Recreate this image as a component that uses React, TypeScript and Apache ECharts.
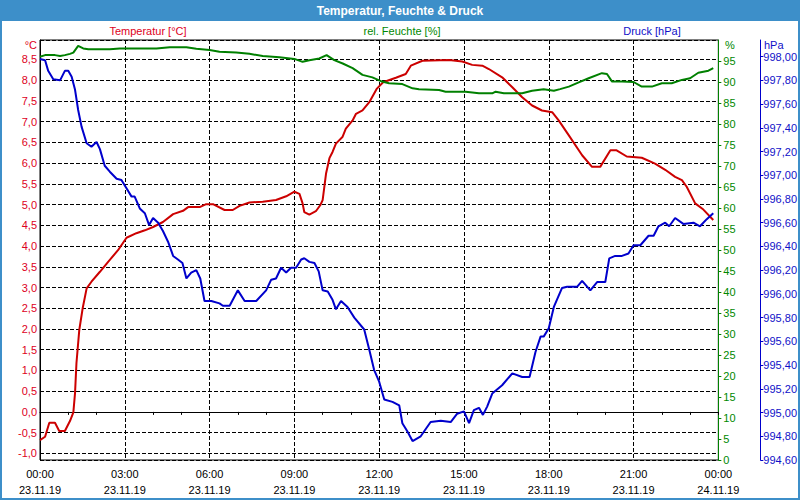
import React, { useEffect, useRef } from "react";
import * as echarts from "echarts";

const FONT = "'Liberation Sans', Arial, sans-serif";

const TITLE = "Temperatur, Feuchte & Druck";
const seriesNames = ["Temperatur [°C]", "rel. Feuchte [%]", "Druck [hPa]"];
const unitLabels = ["°C", "%", "hPa"];
const hourLabels = ["00:00", "03:00", "06:00", "09:00", "12:00", "15:00", "18:00", "21:00", "00:00"];
const dateLabels = ["23.11.19", "23.11.19", "23.11.19", "23.11.19", "23.11.19", "23.11.19", "23.11.19", "23.11.19", "24.11.19"];

// [hours since 23.11.19 00:00, value]
const temperature: [number, number][] = [
  [0, -0.68], [0.18, -0.6], [0.33, -0.26], [0.53, -0.26], [0.68, -0.46], [0.88, -0.46],
  [1.06, -0.22], [1.18, -0.01], [1.24, 0.46], [1.29, 1.18], [1.39, 1.98], [1.51, 2.5],
  [1.65, 2.98], [1.82, 3.14], [2.12, 3.38], [2.41, 3.62], [2.76, 3.9], [3.06, 4.2],
  [3.41, 4.31], [3.71, 4.38], [4.0, 4.46], [4.35, 4.58], [4.71, 4.77], [5.06, 4.85],
  [5.24, 4.94], [5.65, 4.94], [5.88, 5.01], [6.12, 5.01], [6.53, 4.87], [6.82, 4.87],
  [7.06, 4.97], [7.41, 5.05], [7.88, 5.07], [8.35, 5.11], [8.71, 5.2], [9.0, 5.31],
  [9.18, 5.26], [9.29, 5.03], [9.35, 4.82], [9.53, 4.76], [9.76, 4.84], [9.92, 4.99],
  [10.0, 5.11], [10.12, 5.75], [10.24, 6.12], [10.35, 6.27], [10.47, 6.47], [10.7, 6.63],
  [10.82, 6.83], [11.06, 7.03], [11.18, 7.19], [11.41, 7.27], [11.65, 7.47], [11.91, 7.79],
  [12.14, 7.95], [12.59, 8.06], [12.94, 8.15], [13.12, 8.35], [13.53, 8.47], [14.47, 8.49],
  [14.94, 8.45], [15.29, 8.37], [15.65, 8.35], [15.88, 8.27], [16.35, 8.07], [16.71, 7.83],
  [17.06, 7.59], [17.41, 7.39], [17.76, 7.27], [18.12, 7.23], [18.35, 7.03], [18.71, 6.67],
  [19.18, 6.19], [19.53, 5.91], [19.82, 5.91], [20.18, 6.31], [20.4, 6.31], [20.76, 6.16],
  [21.29, 6.13], [21.76, 5.99], [22.12, 5.84], [22.47, 5.67], [22.71, 5.59], [22.88, 5.43],
  [23.18, 5.03], [23.47, 4.88], [23.82, 4.63],
];

const humidity: [number, number][] = [
  [0, 96.0], [0.18, 96.4], [0.53, 96.4], [0.71, 96.2], [0.88, 96.4], [1.06, 96.7],
  [1.18, 97.0], [1.35, 98.6], [1.53, 98.0], [1.71, 97.8], [2.47, 97.8], [2.82, 98.0],
  [4.12, 98.0], [4.59, 98.3], [5.18, 98.3], [5.53, 97.9], [6.0, 97.6], [6.35, 97.2],
  [6.94, 97.0], [7.41, 96.7], [7.88, 96.2], [8.47, 95.9], [9.0, 95.5], [9.29, 94.8],
  [9.53, 95.2], [9.88, 95.6], [10.14, 96.4], [10.41, 95.2], [10.71, 94.4], [11.06, 93.3],
  [11.41, 91.7], [11.76, 91.1], [12.1, 90.1], [12.35, 89.7], [12.82, 89.5], [13.18, 88.5],
  [13.41, 88.3], [14.12, 88.1], [14.35, 87.7], [15.06, 87.7], [15.53, 87.3], [16.0, 87.3],
  [16.12, 87.7], [16.41, 87.3], [17.06, 87.3], [17.41, 87.9], [17.82, 88.3], [18.18, 87.9],
  [18.4, 88.3], [18.71, 88.9], [19.06, 89.9], [19.41, 90.9], [19.88, 92.1], [20.06, 91.9],
  [20.24, 90.1], [20.59, 90.1], [21.0, 90.0], [21.29, 88.9], [21.65, 88.9], [22.0, 89.7],
  [22.35, 89.7], [22.71, 90.5], [23.0, 90.9], [23.29, 92.2], [23.65, 92.7], [23.82, 93.3],
];

const pressure: [number, number][] = [
  [0, 997.98], [0.18, 997.97], [0.29, 997.88], [0.47, 997.81], [0.71, 997.8], [0.88, 997.88],
  [1.0, 997.88], [1.12, 997.83], [1.24, 997.72], [1.35, 997.55], [1.47, 997.41], [1.65, 997.27],
  [1.82, 997.24], [2.0, 997.28], [2.12, 997.22], [2.29, 997.08], [2.47, 997.03], [2.71, 996.97],
  [2.88, 996.96], [3.06, 996.89], [3.24, 996.82], [3.35, 996.82], [3.53, 996.72], [3.71, 996.68],
  [3.86, 996.58], [4.0, 996.64], [4.18, 996.6], [4.35, 996.53], [4.53, 996.44], [4.71, 996.32],
  [4.88, 996.29], [5.04, 996.26], [5.18, 996.13], [5.35, 996.18], [5.53, 996.2], [5.67, 996.13],
  [5.82, 995.94], [6.06, 995.94], [6.35, 995.92], [6.47, 995.9], [6.71, 995.9], [7.0, 996.03],
  [7.24, 995.94], [7.65, 995.94], [8.0, 996.03], [8.18, 996.12], [8.35, 996.13], [8.53, 996.22],
  [8.71, 996.18], [8.88, 996.22], [9.06, 996.22], [9.24, 996.29], [9.35, 996.3], [9.53, 996.27],
  [9.71, 996.26], [9.86, 996.19], [10.0, 996.03], [10.18, 996.02], [10.35, 995.95], [10.47, 995.87],
  [10.65, 995.94], [10.88, 995.89], [11.12, 995.8], [11.47, 995.7], [11.65, 995.53], [11.82, 995.36],
  [12.0, 995.26], [12.18, 995.11], [12.47, 995.09], [12.71, 995.06], [12.82, 994.91], [13.0, 994.84],
  [13.18, 994.76], [13.47, 994.8], [13.82, 994.92], [14.18, 994.93], [14.53, 994.92], [14.76, 994.99],
  [15.0, 995.01], [15.18, 994.91], [15.35, 995.02], [15.53, 995.04], [15.67, 994.98], [15.82, 995.05],
  [16.0, 995.16], [16.35, 995.23], [16.71, 995.33], [17.06, 995.3], [17.32, 995.3], [17.53, 995.51],
  [17.71, 995.64], [17.82, 995.64], [18.0, 995.71], [18.18, 995.89], [18.47, 996.05], [18.65, 996.06],
  [19.0, 996.06], [19.18, 996.11], [19.47, 996.03], [19.71, 996.1], [20.0, 996.1], [20.14, 996.3],
  [20.35, 996.32], [20.59, 996.32], [20.82, 996.34], [21.0, 996.41], [21.24, 996.41], [21.53, 996.49],
  [21.71, 996.49], [21.88, 996.57], [22.12, 996.6], [22.26, 996.57], [22.47, 996.64], [22.76, 996.59],
  [23.12, 996.6], [23.35, 996.57], [23.59, 996.63], [23.82, 996.68],
];

const RED_LINE = "#cc0000";
const GREEN_LINE = "#008000";
const BLUE_LINE = "#0000cc";
const RED_TEXT = "#dd0022";
const GREEN_TEXT = "#008800";
const BLUE_TEXT = "#1010c8";
const FRAME_BLUE = "#3d8fc9";
const DASH = [4, 2];

const isStep = (v: number, step: number) => Math.abs(v / step - Math.round(v / step)) < 1e-6;

export default function App() {
  const ref = useRef<HTMLDivElement>(null);

  useEffect(() => {
    if (!ref.current) return;
    const chart = echarts.init(ref.current, null, { renderer: "svg" });
    const option: any = {
      animation: false,
      backgroundColor: "#ffffff",
      textStyle: { fontFamily: FONT, fontSize: 11 },
      grid: {
        left: 40,
        right: 80,
        top: 40,
        bottom: 40,
        show: true,
        borderColor: "#000",
        borderWidth: 1,
        backgroundColor: "#ffffff",
      },
      xAxis: {
        type: "value",
        min: 0,
        max: 24,
        interval: 3,
        axisLine: { show: true, lineStyle: { color: "#000", width: 1 } },
        axisTick: { show: true, length: 3, lineStyle: { color: "#000" } },
        minorTick: { show: true, splitNumber: 3, length: 3, lineStyle: { color: "#000" } },
        splitLine: { show: true, lineStyle: { color: "#000", width: 1, type: DASH } },
        axisLabel: {
          color: "#000",
          fontFamily: FONT,
          fontSize: 11,
          lineHeight: 16,
          margin: 6,
          formatter: (v: number) => {
            const i = Math.round(v / 3);
            return `${hourLabels[i]}\n${dateLabels[i]}`;
          },
        },
      },
      yAxis: [
        {
          type: "value",
          position: "left",
          min: -1.16,
          max: 8.97,
          splitNumber: 20,
          minInterval: 0.5,
          maxInterval: 0.5,
          axisLine: { show: true, lineStyle: { color: "#000", width: 1 } },
          axisTick: { show: false },
          axisLabel: {
            color: RED_TEXT,
            fontFamily: FONT,
            fontSize: 11,
            margin: 3,
            showMinLabel: false,
            showMaxLabel: false,
            formatter: (v: number) => (isStep(v, 0.5) ? v.toFixed(1).replace(".", ",") : ""),
          },
          splitLine: { show: true, lineStyle: { color: "#000", width: 1, type: DASH } },
        },
        {
          type: "value",
          position: "right",
          min: 0,
          max: 100,
          interval: 5,
          axisLine: { show: true, lineStyle: { color: GREEN_LINE, width: 1 } },
          axisTick: { show: true, length: 3, lineStyle: { color: GREEN_LINE } },
          axisLabel: {
            color: GREEN_TEXT,
            fontFamily: FONT,
            fontSize: 11,
            margin: 5,
            showMaxLabel: false,
            formatter: (v: number) => String(v),
          },
          splitLine: { show: false },
        },
        {
          type: "value",
          position: "right",
          offset: 42,
          min: 994.6,
          max: 998.14,
          splitNumber: 18,
          minInterval: 0.2,
          maxInterval: 0.2,
          axisLine: { show: true, lineStyle: { color: BLUE_LINE, width: 1 } },
          axisTick: { show: true, length: 3, lineStyle: { color: BLUE_LINE } },
          axisLabel: {
            color: BLUE_TEXT,
            fontFamily: FONT,
            fontSize: 11,
            margin: 3,
            showMaxLabel: false,
            formatter: (v: number) => (isStep(v, 0.2) ? v.toFixed(2).replace(".", ",") : ""),
          },
          splitLine: { show: false },
        },
      ],
      series: [
        {
          name: seriesNames[0],
          type: "line",
          yAxisIndex: 0,
          data: temperature,
          showSymbol: false,
          symbol: "none",
          lineStyle: { color: RED_LINE, width: 2 },
          itemStyle: { color: RED_LINE },
        },
        {
          name: seriesNames[1],
          type: "line",
          yAxisIndex: 1,
          data: humidity,
          showSymbol: false,
          symbol: "none",
          lineStyle: { color: GREEN_LINE, width: 2 },
          itemStyle: { color: GREEN_LINE },
        },
        {
          name: seriesNames[2],
          type: "line",
          yAxisIndex: 2,
          data: pressure,
          showSymbol: false,
          symbol: "none",
          lineStyle: { color: BLUE_LINE, width: 2 },
          itemStyle: { color: BLUE_LINE },
        },
      ],
      graphic: [
        {
          type: "rect",
          shape: { x: 1, y: 1, width: 798, height: 498 },
          style: { fill: "none", stroke: FRAME_BLUE, lineWidth: 2 },
          silent: true,
        },
        {
          type: "rect",
          shape: { x: 0, y: 0, width: 800, height: 21 },
          style: { fill: FRAME_BLUE },
          silent: true,
        },
        {
          type: "text",
          x: 400,
          y: 11,
          style: {
            text: TITLE,
            fill: "#ffffff",
            font: `bold 12px ${FONT}`,
            align: "center",
            verticalAlign: "middle",
          },
        },
        {
          type: "text",
          x: 148,
          y: 31,
          style: { text: seriesNames[0], fill: RED_TEXT, font: `11px ${FONT}`, align: "center", verticalAlign: "middle" },
        },
        {
          type: "text",
          x: 402,
          y: 31,
          style: { text: seriesNames[1], fill: GREEN_TEXT, font: `11px ${FONT}`, align: "center", verticalAlign: "middle" },
        },
        {
          type: "text",
          x: 652,
          y: 31,
          style: { text: seriesNames[2], fill: BLUE_TEXT, font: `11px ${FONT}`, align: "center", verticalAlign: "middle" },
        },
        {
          type: "text",
          x: 37,
          y: 45,
          style: { text: unitLabels[0], fill: RED_TEXT, font: `11px ${FONT}`, align: "right", verticalAlign: "middle" },
        },
        {
          type: "text",
          x: 725,
          y: 45,
          style: { text: unitLabels[1], fill: GREEN_TEXT, font: `11px ${FONT}`, align: "left", verticalAlign: "middle" },
        },
        {
          type: "text",
          x: 764,
          y: 45,
          style: { text: unitLabels[2], fill: BLUE_TEXT, font: `11px ${FONT}`, align: "left", verticalAlign: "middle" },
        },
      ],
    };
    chart.setOption(option);
    return () => chart.dispose();
  }, []);

  return (
    <div
      ref={ref}
      style={{ position: "fixed", left: 0, top: 0, width: 800, height: 500 }}
    />
  );
}
